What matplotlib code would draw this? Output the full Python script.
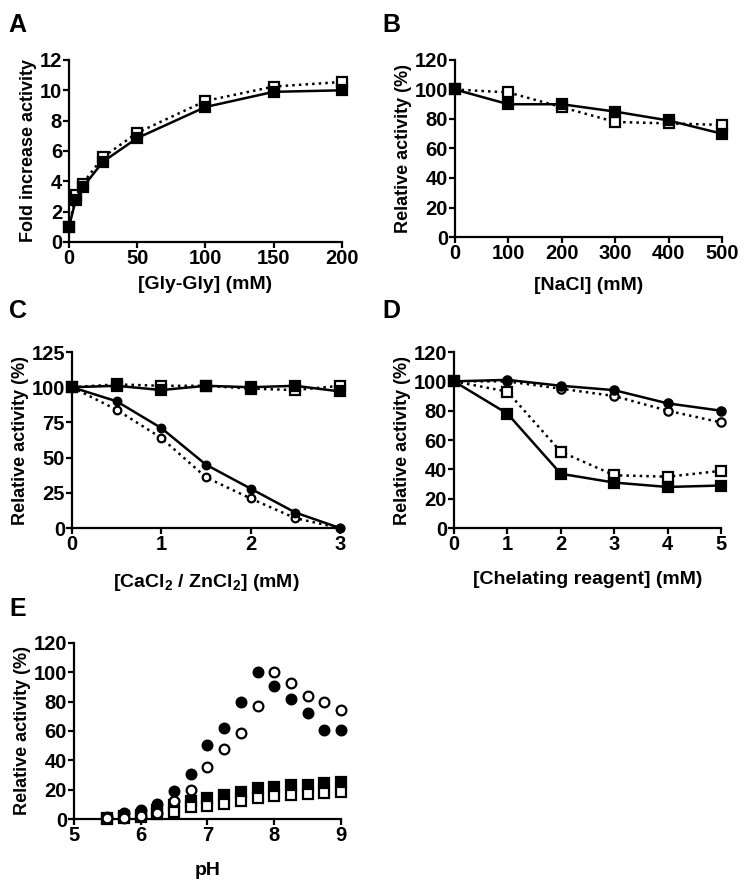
import matplotlib
matplotlib.use('Agg')
import matplotlib.pyplot as plt

plt.rcParams['font.family'] = ['Liberation Sans', 'DejaVu Sans']
plt.rcParams['font.weight'] = 'bold'
plt.rcParams['mathtext.fontset'] = 'custom'
plt.rcParams['mathtext.bf'] = 'Liberation Sans:bold'
plt.rcParams['mathtext.rm'] = 'Liberation Sans:bold'

# A: Gly-Gly
gly_x = [0, 5, 10, 25, 50, 100, 150, 200]
gly_filled = [1.0, 2.8, 3.6, 5.3, 6.85, 8.9, 9.9, 10.0]
gly_open = [1.0, 3.1, 3.85, 5.6, 7.2, 9.3, 10.25, 10.55]

# B: NaCl
nacl_x = [0, 100, 200, 300, 400, 500]
nacl_filled = [100, 90, 90, 85, 79, 70]
nacl_open = [100, 98, 88, 78, 77, 76]

# C: CaCl2 / ZnCl2
metal_x = [0, 0.5, 1, 1.5, 2, 2.5, 3]
metal_sq_filled = [100, 101, 98, 101, 100, 101, 97]
metal_sq_open = [100, 102, 101, 101, 99, 98, 101]
metal_ci_filled = [100, 90, 71, 45, 28, 11, 0]
metal_ci_open = [100, 84, 64, 36, 21, 7, 0]

# D: chelating reagent
chel_x = [0, 1, 2, 3, 4, 5]
chel_ci_filled = [100, 101, 97, 94, 85, 80]
chel_ci_open = [100, 100, 95, 90, 80, 72]
chel_sq_filled = [100, 78, 37, 31, 28, 29]
chel_sq_open = [100, 93, 52, 36, 35, 39]

# E: pH
ph_x = [5.5, 5.75, 6.0, 6.25, 6.5, 6.75, 7.0, 7.25, 7.5, 7.75, 8.0, 8.25, 8.5, 8.75, 9.0]
ph_ci_filled = [1.5, 4, 6, 10, 19, 30.5, 50.5, 62, 80, 100, 90.5, 81.5, 72, 60.5, 60.5]
ph_ci_open = [0.5, 1, 2, 4, 12.5, 20, 35.5, 48, 58.5, 77, 100, 93, 84, 79.5, 74.5]
ph_sq_filled = [1, 2, 3, 6, 9.5, 12.5, 14.5, 16.5, 18.5, 21, 22, 23, 23.5, 24.5, 25]
ph_sq_open = [0.3, 0.5, 1.5, 3.5, 5, 8.5, 9, 10, 12, 14, 16, 16.5, 17, 17.5, 18.5]

fig = plt.figure(figsize=(7.45, 8.86), dpi=100)


def style_axes(ax, xlim, ylim, xticks, yticks, xlabel, ylabel):
    ax.set_xlim(xlim)
    ax.set_ylim(ylim)
    ax.set_xticks(xticks)
    ax.set_yticks(yticks)
    for s in ['top', 'right']:
        ax.spines[s].set_visible(False)
    for s in ['left', 'bottom']:
        ax.spines[s].set_linewidth(1.6)
    ax.tick_params(width=1.6, length=4, labelsize=14.5, pad=1)
    for lab in ax.get_xticklabels() + ax.get_yticklabels():
        lab.set_fontweight('bold')
    ax.set_xlabel(xlabel, fontsize=14, fontweight='bold', labelpad=6)
    ax.set_ylabel(ylabel, fontsize=13, fontweight='bold', labelpad=2)


def line(ax, x, y, marker, filled, ls, ms):
    fc = 'black' if filled else 'white'
    ax.plot(x, y, linestyle=ls, color='black', lw=1.8, marker=marker, ms=ms,
            mfc=fc, mec='black', mew=1.6, clip_on=False, zorder=3)


# panel A
axA = fig.add_axes([0.0926, 0.7269, 0.3664, 0.2054])
line(axA, gly_x, gly_open, 's', False, ':', 7)
line(axA, gly_x, gly_filled, 's', True, '-', 7)
style_axes(axA, (0, 200), (0, 12), [0, 50, 100, 150, 200], [0, 2, 4, 6, 8, 10, 12],
           '[Gly-Gly] (mM)', 'Fold increase activity')

# panel B
axB = fig.add_axes([0.6107, 0.7325, 0.3584, 0.1998])
line(axB, nacl_x, nacl_open, 's', False, ':', 7)
line(axB, nacl_x, nacl_filled, 's', True, '-', 7)
style_axes(axB, (0, 500), (0, 120), [0, 100, 200, 300, 400, 500], [0, 20, 40, 60, 80, 100, 120],
           '[NaCl] (mM)', 'Relative activity (%)')
axB.xaxis.labelpad = 10

# panel C
axC = fig.add_axes([0.0966, 0.404, 0.3598, 0.1987])
line(axC, metal_x, metal_sq_open, 's', False, ':', 6.5)
line(axC, metal_x, metal_sq_filled, 's', True, '-', 6.5)
line(axC, metal_x, metal_ci_open, 'o', False, ':', 5.5)
line(axC, metal_x, metal_ci_filled, 'o', True, '-', 5.5)
style_axes(axC, (0, 3), (0, 125), [0, 1, 2, 3], [0, 25, 50, 75, 100, 125],
           r'[CaCl$_\mathbf{2}$ / ZnCl$_\mathbf{2}$] (mM)', 'Relative activity (%)')
axC.xaxis.labelpad = 13

# panel D
axD = fig.add_axes([0.6094, 0.404, 0.3584, 0.1987])
line(axD, chel_x, chel_ci_open, 'o', False, ':', 6)
line(axD, chel_x, chel_ci_filled, 'o', True, '-', 6)
line(axD, chel_x, chel_sq_open, 's', False, ':', 6.5)
line(axD, chel_x, chel_sq_filled, 's', True, '-', 6.5)
style_axes(axD, (0, 5), (0, 120), [0, 1, 2, 3, 4, 5], [0, 20, 40, 60, 80, 100, 120],
           '[Chelating reagent] (mM)', 'Relative activity (%)')
axD.xaxis.labelpad = 12

# panel E
axE = fig.add_axes([0.0993, 0.0756, 0.3584, 0.1987])
line(axE, ph_x, ph_sq_filled, 's', True, 'none', 6.5)
line(axE, ph_x, ph_sq_open, 's', False, 'none', 6.5)
line(axE, ph_x, ph_ci_filled, 'o', True, 'none', 7)
line(axE, ph_x, ph_ci_open, 'o', False, 'none', 7)
style_axes(axE, (5, 9), (0, 120), [5, 6, 7, 8, 9], [0, 20, 40, 60, 80, 100, 120],
           'pH', 'Relative activity (%)')
axE.xaxis.labelpad = 12

for letter, x, y in [('A', 0.011, 0.985), ('B', 0.513, 0.985), ('C', 0.012, 0.662),
                     ('D', 0.513, 0.662), ('E', 0.012, 0.326)]:
    fig.text(x, y, letter, fontsize=18, fontweight='bold', va='top', ha='left')

fig.savefig('out.png', dpi=100)
